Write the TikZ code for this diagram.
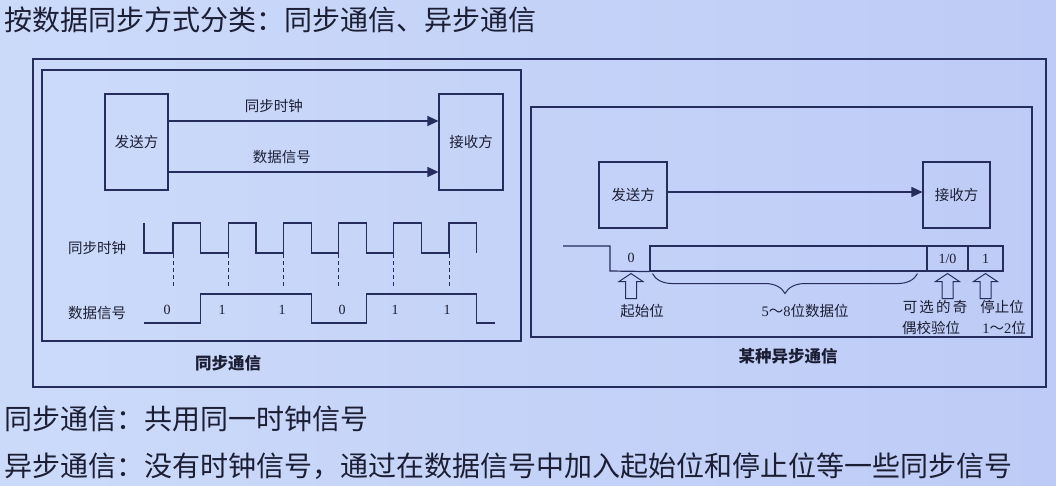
\documentclass[tikz,border=0pt]{standalone}
\usepackage{fontspec}
\setmainfont{Liberation Serif}
\newfontfamily\cjk{Noto Sans CJK SC}
\newfontfamily\cjkwide{Noto Sans CJK SC}[LetterSpace=15]
\definecolor{inkblue}{RGB}{38,44,92}
\definecolor{inktext}{RGB}{28,30,52}
\definecolor{slideleft}{RGB}{204,218,250}
\definecolor{slideright}{RGB}{190,203,246}
\usetikzlibrary{positioning,arrows.meta,decorations.pathreplacing}

\tikzset{
  frame/.style={draw=inkblue, line width=1.3pt},
  party/.style={draw=inkblue, line width=1.1pt, inner sep=0pt, font=\cjk\fontsize{14.5}{16}\selectfont, text=inktext},
  lbl/.style={inner sep=0pt, font=\cjk\fontsize{14.5}{16}\selectfont, text=inktext},
  caption/.style={inner sep=0pt, font=\cjk\bfseries\fontsize{16.5}{18}\selectfont, text=inktext},
  bigtxt/.style={inner sep=0pt, anchor=west, font=\cjk\fontsize{28}{30}\selectfont, text=inktext},
  bit/.style={inner sep=0pt, font=\fontsize{14}{16}\selectfont, text=inktext},
  field/.style={draw=inkblue, line width=1.1pt, minimum height=25pt, inner sep=0pt, font=\fontsize{14}{16}\selectfont, text=inktext},
  wave/.style={draw=inkblue, line width=1.2pt},
  sig/.style={wave, -{Triangle[length=11pt,width=10pt]}},
  hollow/.style={draw=inkblue, line width=1pt, line join=miter}
}

\begin{document}
\begin{tikzpicture}[x=1pt,y=-1pt]
\shade[left color=slideleft, right color=slideright] (0,0) rectangle (1056,486);
\useasboundingbox (0,0) rectangle (1056,486);

\node[bigtxt] (title) at (4,20) {按数据同步方式分类：同步通信、异步通信};

\draw[frame] (33,59) rectangle (1046,387);
\draw[frame] (42,70) rectangle (521,341);
\draw[frame] (531,107) rectangle (1032,337);

\node[party, minimum width=63pt, minimum height=96pt] (snd) at (136.5,142) {发送方};
\node[party, minimum width=64pt, minimum height=96pt] (rcv) at (471,142) {接收方};
\draw[sig] ([yshift=21pt]snd.east) -- ([yshift=21pt]rcv.west) node[lbl, pos=0.39, above=8pt] (clktxt) {同步时钟};
\draw[sig] ([yshift=-30pt]snd.east) -- ([yshift=-30pt]rcv.west) node[lbl, pos=0.42, above=8pt] (dattxt) {数据信号};

\node[lbl] (clklbl) at (97,248) {同步时钟};
\node[lbl] (datlbl) at (97,313) {数据信号};
\draw[wave] (144,223) -- (144,253)
  \foreach \k in {0,...,5} { -- ({173+55.2*\k},253) -- ++(0,-30) -- ++(27.8,0) -- ++(0,30) };
\foreach \k in {0,...,5}
  \draw[wave, line width=1pt, dash pattern=on 4pt off 3pt] ({173+55.2*\k},254) -- ({173+55.2*\k},288);
\draw[wave] (144,323) -- (200.8,323) -- (200.8,294) -- (311.2,294) -- (311.2,323) -- (366.4,323)
  -- (366.4,294) -- (476.8,294) -- (476.8,323) -- (495,323);
\foreach \b/\x in {0/167,1/222,1/282,0/342,1/395,1/447}
  \node[bit] (bit\x) at (\x,310) {\b};
\node[caption] (cap1) at (228,363) {同步通信};

\node[party, minimum width=68pt, minimum height=66pt] (asnd) at (633,195) {发送方};
\node[party, minimum width=67pt, minimum height=66pt] (arcv) at (956.5,195) {接收方};
\draw[sig] ([yshift=3pt]asnd.east) -- ([yshift=3pt]arcv.west);

\node[field, minimum width=277pt] (data) at (788.5,258.5) {};
\node[field, minimum width=41pt] (par) at (947.5,258.5) {1/0};
\node[field, minimum width=35pt] (stp) at (985.5,258.5) {1};
\node[bit] (start) at (631,258) {0};
\draw[wave] (563,246) -- (610,246) -- (610,271) -- (data.south west);
\foreach \n in {start,par,stp}
  \draw[hollow] (\n |- data.south) ++(0,2) -- ++(12,8) -- ++(-6.5,0) -- ++(0,17) -- ++(-11,0)
    -- ++(0,-17) -- ++(-6.5,0) -- cycle;
\draw[wave, line width=1pt, decorate, decoration={brace, mirror, amplitude=20pt}]
  ([xshift=3pt, yshift=-2pt]data.south west) -- ([xshift=-10pt, yshift=-2pt]data.south east);

\node[lbl] (lstart) at (642,311) {起始位};
\node[lbl] (ldata) at (805,311) {{\rmfamily 5}～{\rmfamily 8}位数据位};
\node[lbl, font=\cjkwide\fontsize{14.5}{16}\selectfont] (lpar1) at (935,307) {可选的奇};
\node[lbl] (lpar2) at (931,328) {偶校验位};
\node[lbl] (lstop1) at (1002,307) {停止位};
\node[lbl] (lstop2) at (1004,328) {{\rmfamily 1}～{\rmfamily 2}位};
\node[caption] (cap2) at (788,356) {某种异步通信};

\node[bigtxt] (note1) at (4,419) {同步通信：共用同一时钟信号};
\node[bigtxt] (note2) at (4,466) {异步通信：没有时钟信号，通过在数据信号中加入起始位和停止位等一些同步信号};
\end{tikzpicture}
\end{document}
